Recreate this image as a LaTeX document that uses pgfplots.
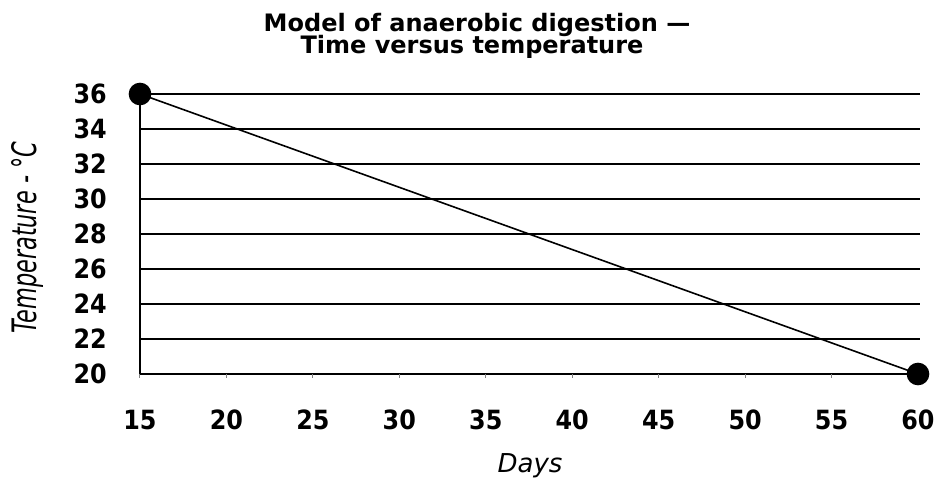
\documentclass[border=0pt]{standalone}
\usepackage{pgfplots}
\pgfplotsset{compat=1.18}
\usepackage{fontspec}
\setmainfont{DejaVu Sans Condensed}
\newfontfamily\wide{DejaVu Sans}
\begin{document}
\begin{tikzpicture}
\useasboundingbox (-140pt,-107pt) rectangle (795pt,374pt);
\begin{axis}[
  at={(0,0)}, anchor=south west, scale only axis,
  width=780pt, height=280pt,
  xmin=15, xmax=60.116, ymin=20, ymax=36,
  clip=false,
  axis x line*=bottom,
  axis y line*=left,
  x axis line style={draw=none, -},
  y axis line style={line width=2pt, -},
  xtick={15,20,...,60}, ytick={20,22,...,36},
  ymajorgrids, grid style={black, line width=2.2pt},
  x tick style={gray, line width=1pt},
  y tick style={draw=none},
  tick align=outside, major tick length=4pt,
  xticklabel style={font=\bfseries\fontsize{26.5}{26.5}\selectfont, anchor=base, inner sep=0pt, yshift=-52pt},
  yticklabel style={font=\bfseries\fontsize{26.5}{26.5}\selectfont, anchor=east, inner sep=0pt, xshift=-29pt},
  /pgf/number format/assume math mode=true,
]
\addplot[black, line width=1.6pt, mark=*, mark size=10.5pt, mark options={fill=black}] coordinates {(15,36) (60,20)};
\end{axis}
\node[anchor=base, font=\wide\bfseries\fontsize{24}{24}\selectfont] at (337pt,342pt) {Model of anaerobic digestion —};
\node[anchor=base, font=\wide\bfseries\fontsize{24}{24}\selectfont] at (332pt,320pt) {Time versus temperature};
\node[anchor=base, font=\wide\itshape\fontsize{26}{26}\selectfont] at (390pt,-99pt) {Days};
\node[rotate=90, font=\itshape\fontsize{30}{30}\selectfont, inner sep=0pt] at (-112pt,136pt) {\resizebox{192pt}{25pt}{Temperature - °C}};
\end{tikzpicture}
\end{document}
